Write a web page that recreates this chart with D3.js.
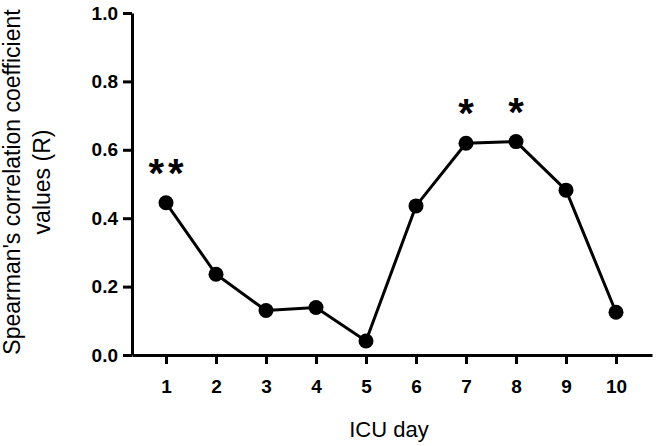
<!DOCTYPE html>
<html>
<head>
<meta charset="utf-8">
<script src="https://cdn.jsdelivr.net/npm/d3@7"></script>
<style>
body { margin: 0; background: #fff; }
text { font-family: "Liberation Sans", Arial, sans-serif; }
</style>
</head>
<body>
<script>
var days = [1, 2, 3, 4, 5, 6, 7, 8, 9, 10];
var rValues = [0.445, 0.236, 0.130, 0.139, 0.041, 0.436, 0.619, 0.624, 0.482, 0.125];
var marks = [{day: 1, label: "**"}, {day: 7, label: "*"}, {day: 8, label: "*"}];
var yTicks = [0, 0.2, 0.4, 0.6, 0.8, 1.0];

var width = 656,
	height = 446;

var x = d3.scaleLinear().domain([0.32, 10.72]).range([132, 652]);
var y = d3.scaleLinear().domain([0, 1]).range([355, 13]);

var svg = d3.select("body").append("svg")
	.attr("width", width)
	.attr("height", height);

var data = days.map(function(d, i) { return [d, rValues[i]]; });

// axes
var xAxis = svg.append("g")
	.attr("transform", "translate(0,355)")
	.call(d3.axisBottom(x).tickValues(days).tickFormat(d3.format("d")).tickSize(9).tickSizeOuter(0).tickPadding(16));

var yAxis = svg.append("g")
	.attr("transform", "translate(132,0)")
	.call(d3.axisLeft(y).tickValues(yTicks).tickFormat(d3.format(".1f")).tickSize(9).tickSizeOuter(0).tickPadding(5));

[xAxis, yAxis].forEach(function(g) {
	g.select(".domain").attr("stroke", "#000").attr("stroke-width", 3);
	g.selectAll(".tick line").attr("stroke", "#000").attr("stroke-width", 3);
	g.selectAll(".tick text")
		.attr("fill", "#000")
		.style("font-family", "'Liberation Sans', Arial, sans-serif")
		.style("font-size", "19px")
		.style("font-weight", "bold");
});

// line + points
svg.append("path")
	.datum(data)
	.attr("fill", "none")
	.attr("stroke", "#000")
	.attr("stroke-width", 3)
	.attr("d", d3.line().x(function(d) { return x(d[0]); }).y(function(d) { return y(d[1]); }));

svg.selectAll("circle")
	.data(data)
	.enter().append("circle")
	.attr("r", 7.5)
	.attr("cx", function(d) { return x(d[0]); })
	.attr("cy", function(d) { return y(d[1]); })
	.attr("fill", "#000");

// significance stars
svg.selectAll(".star")
	.data(marks)
	.enter().append("text")
	.attr("class", "star")
	.attr("x", function(d) { return x(d.day) + (d.label.length > 1 ? 2 : 0); })
	.attr("y", function(d) { return y(rValues[d.day - 1]) - 16; })
	.attr("text-anchor", "middle")
	.style("font-size", "40px")
	.style("font-weight", "bold")
	.style("letter-spacing", function(d) { return d.label.length > 1 ? "4px" : "0px"; })
	.text(function(d) { return d.label; });

// axis titles
svg.append("text")
	.attr("x", 389)
	.attr("y", 437)
	.attr("text-anchor", "middle")
	.style("font-size", "22px")
	.text("ICU day");

var yTitle = svg.append("text")
	.attr("transform", "translate(0,182) rotate(-90)")
	.attr("text-anchor", "middle")
	.style("font-size", "23px");
yTitle.append("tspan").attr("x", 0).attr("y", 20).text("Spearman's correlation coefficient");
yTitle.append("tspan").attr("x", 0).attr("y", 50).text("values (R)");
</script>
</body>
</html>
